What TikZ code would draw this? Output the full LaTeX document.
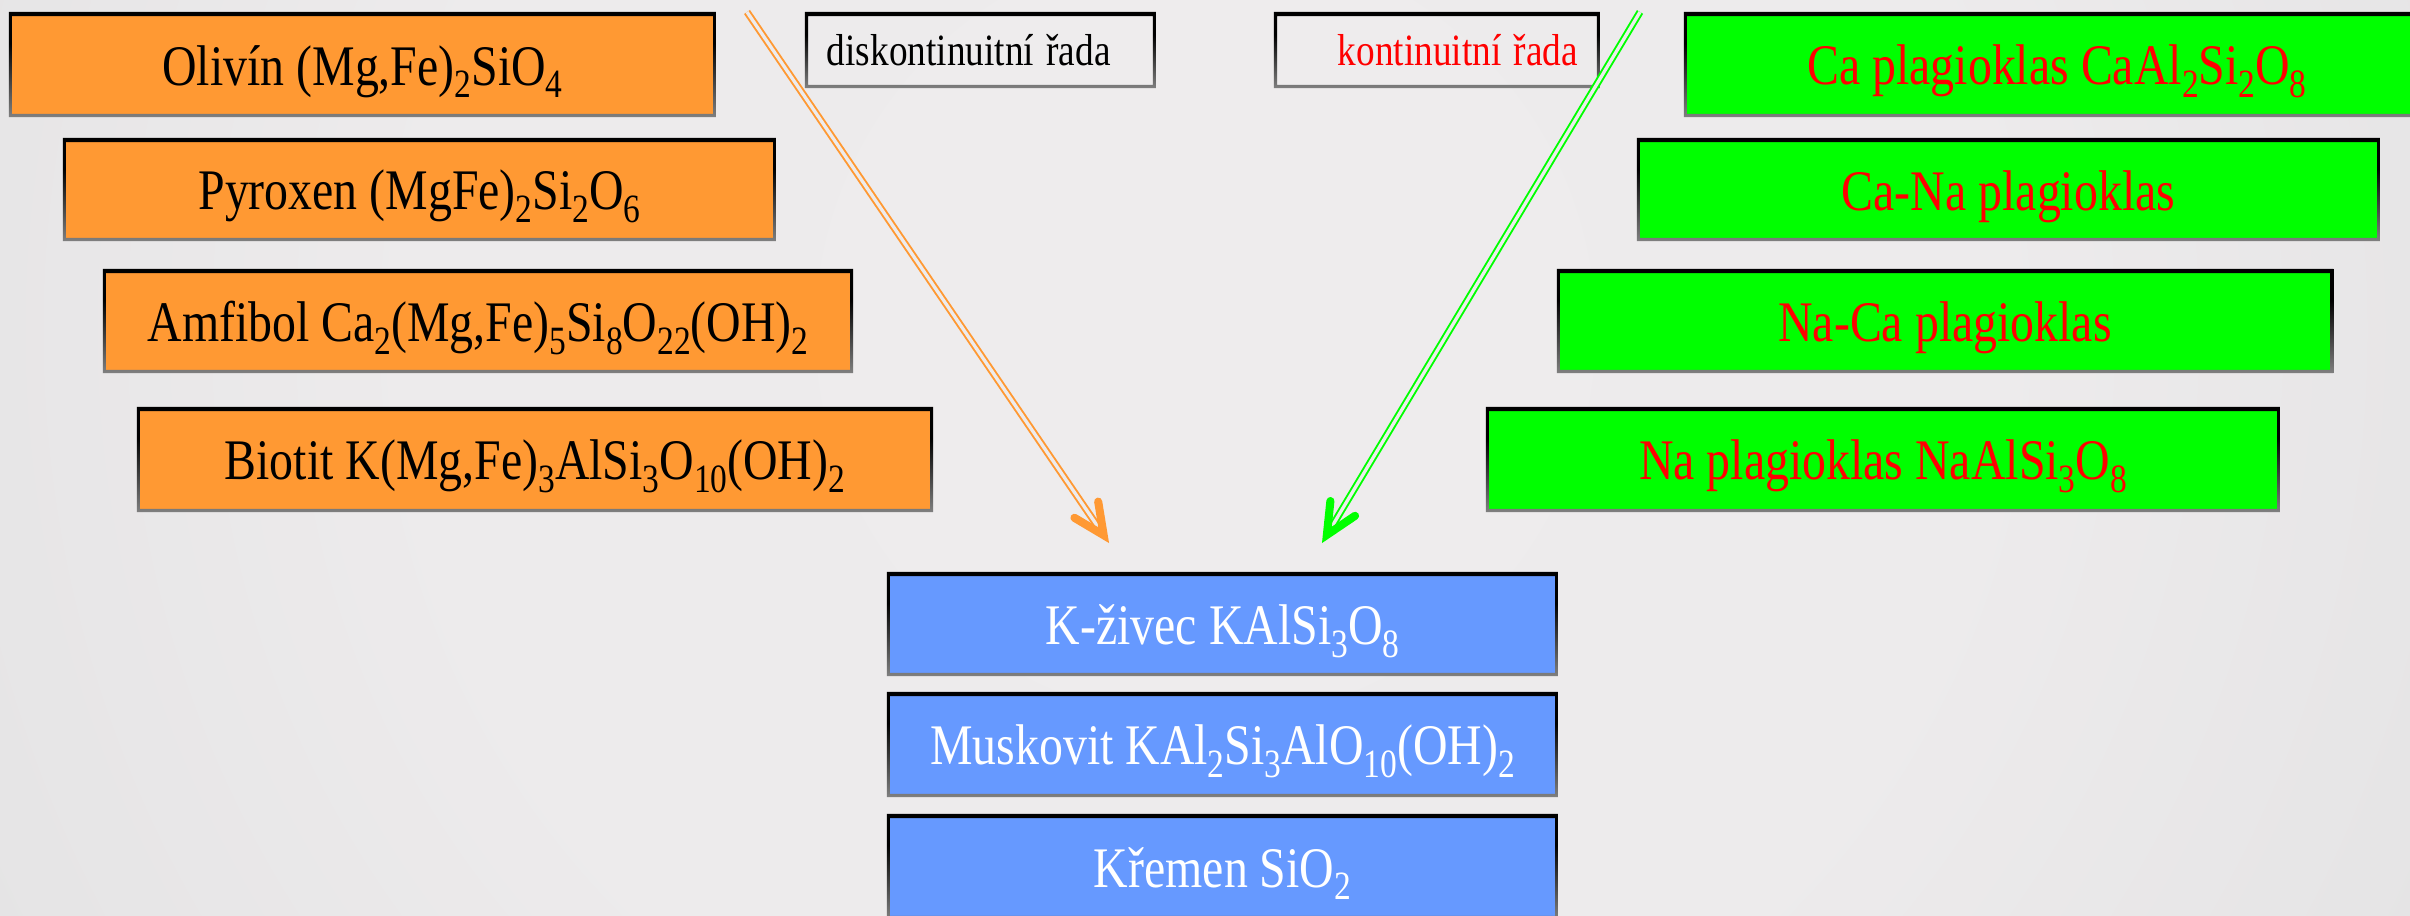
\documentclass[tikz,border=0pt]{standalone}
\usepackage{fontspec}
\setmainfont{Liberation Serif}
\usetikzlibrary{calc}
\definecolor{bgA}{HTML}{EEECED}
\definecolor{bgB}{HTML}{EDEBEC}
\definecolor{bgC}{HTML}{E6E5E6}
\definecolor{bgD}{HTML}{DDDDDD}
\definecolor{bgE}{HTML}{C9C8C9}
\definecolor{bgF}{HTML}{C2C2C2}
\definecolor{orng}{HTML}{FF9933}
\definecolor{grn}{HTML}{00FF00}
\definecolor{blu}{HTML}{6699FF}
\definecolor{fb}{HTML}{C9D9EE}
\pgfdeclareradialshading{bgshade}{\pgfpoint{0bp}{0bp}}{color(0bp)=(bgA); color(14bp)=(bgB); color(23bp)=(bgC); color(33bp)=(bgD); color(44bp)=(bgE); color(50bp)=(bgF)}
\pgfdeclareverticalshading{frameshade}{100bp}{color(0bp)=(fb); color(7bp)=(fb); color(25bp)=(black!50); color(60bp)=(black); color(100bp)=(black)}
\newcommand{\sbs}[1]{\raisebox{-0.22em}{\scalebox{0.7}{#1}}}
\newcommand{\tall}[1]{\scalebox{1}[1.2]{#1}}
\newcommand{\btxt}[1]{\raisebox{-2pt}[\height][\depth]{\scalebox{1}[1.2]{#1}}}
\tikzset{
  mbox/.style={rectangle, inner sep=0pt, font=\fontsize{13.6}{16}\selectfont,
    path picture={\shade[shading=frameshade, even odd rule]
      (path picture bounding box.south west) rectangle (path picture bounding box.north east)
      ($(path picture bounding box.south west)+(0.9pt,0.9pt)$) rectangle ($(path picture bounding box.north east)+(-0.9pt,-1.2pt)$);}},
  obox/.style={mbox, fill=orng, text=black},
  gbox/.style={mbox, fill=grn, text=red},
  bbox/.style={mbox, fill=blu, text=white},
  lbox/.style={mbox, font=\fontsize{10.6}{13}\selectfont, minimum height=0.76cm},
  dline/.style={draw=#1, double=bgB, line width=0.55pt, double distance=0.95pt},
  chev/.style={draw=#1, line width=2.3pt, line cap=round, line join=miter, miter limit=10},
}
\begin{document}
\begin{tikzpicture}[x=0.01cm, y=-0.01cm]
\useasboundingbox (0,0) rectangle (2410,915);
\clip (0,0) rectangle (2410,915);
\shade[shading=bgshade] (1205,330) circle (1400);

% left (orange) series
\node[obox, minimum width=7.07cm, minimum height=1.05cm] (ol) at (362.5,64.5) {\btxt{Olivín (Mg,Fe)\sbs{2}SiO\sbs{4}}};
\node[obox, minimum width=7.13cm, minimum height=1.03cm] (py) at (419.5,189.5) {\btxt{Pyroxen (MgFe)\sbs{2}Si\sbs{2}O\sbs{6}}};
\node[obox, minimum width=7.50cm, minimum height=1.04cm] (am) at (478,321) {\btxt{Amfibol Ca\sbs{2}(Mg,Fe)\sbs{5}Si\sbs{8}O\sbs{22}(OH)\sbs{2}}};
\node[obox, minimum width=7.96cm, minimum height=1.05cm] (bi) at (535,459.5) {\btxt{Biotit K(Mg,Fe)\sbs{3}AlSi\sbs{3}O\sbs{10}(OH)\sbs{2}}};

% right (green) series
\node[gbox, minimum width=7.46cm, minimum height=1.05cm] (cap) at (2057,64.5) {\btxt{Ca plagioklas CaAl\sbs{2}Si\sbs{2}O\sbs{8}}};
\node[gbox, minimum width=7.43cm, minimum height=1.03cm] (cana) at (2008.5,189.5) {\btxt{Ca-Na plagioklas}};
\node[gbox, minimum width=7.76cm, minimum height=1.04cm] (naca) at (1945,321) {\btxt{Na-Ca plagioklas}};
\node[gbox, minimum width=7.94cm, minimum height=1.05cm] (nap) at (1883,459.5) {\btxt{Na plagioklas NaAlSi\sbs{3}O\sbs{8}}};

% bottom (blue)
\node[bbox, minimum width=6.71cm, minimum height=1.04cm] (kz) at (1222.5,624) {\btxt{K-živec KAlSi\sbs{3}O\sbs{8}}};
\node[bbox, minimum width=6.71cm, minimum height=1.05cm] (mu) at (1222.5,744.5) {\btxt{Muskovit KAl\sbs{2}Si\sbs{3}AlO\sbs{10}(OH)\sbs{2}}};
\node[bbox, minimum width=6.71cm, minimum height=1.05cm] (kr) at (1222.5,866.5) {\btxt{Křemen SiO\sbs{2}}};

% labels
\node[lbox, text width=3.07cm, inner xsep=0.22cm, align=left] (dis) at (980.5,50) {\tall{diskontinuitní řada}};
\node[lbox, text=red, text width=2.82cm, inner xsep=0.22cm, align=right] (kon) at (1437,50) {\tall{kontinuitní řada}};

% arrows
\coordinate (os) at (747,12);
\coordinate (ot) at (1109,543);
\coordinate (gs) at (1640,12);
\coordinate (gt) at (1322,543);
\coordinate (ov) at ($(ot)!2.7pt!(os)$);
\coordinate (gv) at ($(gt)!2.7pt!(gs)$);
\draw[dline=orng] (os) -- (ov);
\draw[chev=orng] ($(ov)!0.34cm!25:(os)$) -- (ov) -- ($(ov)!0.34cm!-25:(os)$);
\draw[dline=grn] (gs) -- (gv);
\draw[chev=grn] ($(gv)!0.34cm!25:(gs)$) -- (gv) -- ($(gv)!0.34cm!-25:(gs)$);
\end{tikzpicture}
\end{document}
